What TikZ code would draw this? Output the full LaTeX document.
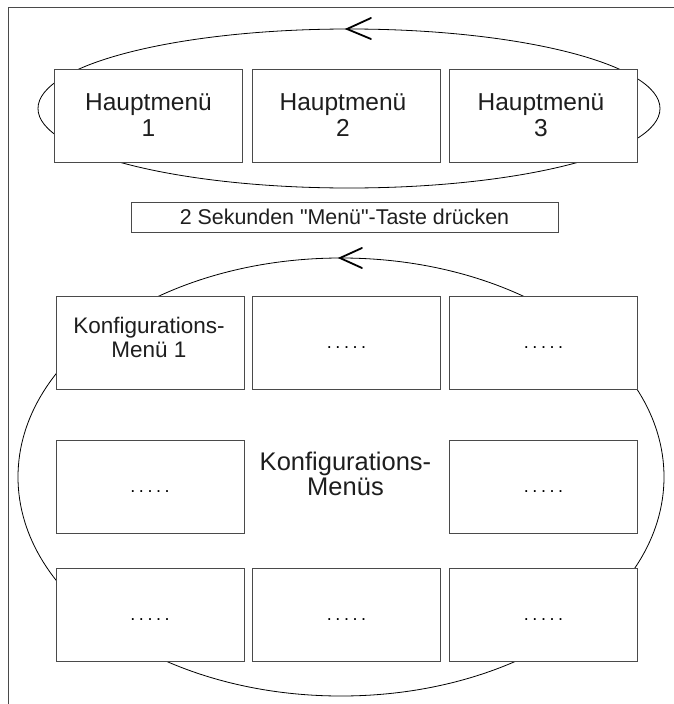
\documentclass[tikz,border=0pt]{standalone}
\usepackage{fontspec}
\setmainfont{Liberation Sans}[Ligatures=TeXOff]
\definecolor{boxgray}{HTML}{4A4A4A}
\definecolor{textgray}{HTML}{1E1E1E}
\newcommand\fivedots{.\kern3.6pt.\kern3.6pt.\kern3.6pt.\kern3.6pt.}
\begin{document}
\begin{tikzpicture}[x=1pt,y=-1pt,
  frame/.style={draw=boxgray,line width=0.9pt},
  menubox/.style={draw=boxgray,line width=0.9pt,fill=white,minimum width=188pt,minimum height=93pt,inner sep=0pt},
  loopline/.style={draw=black,line width=0.8pt},
  tipline/.style={line width=1.8pt,line cap=round,line join=miter},
  hm/.style={text=textgray,font=\fontsize{24.5}{26}\selectfont,anchor=base,inner sep=0pt},
  km/.style={text=textgray,font=\fontsize{22.5}{24}\selectfont,anchor=base,inner sep=0pt},
  bigm/.style={text=textgray,font=\fontsize{25.5}{27}\selectfont,anchor=base,inner sep=0pt},
  dotstext/.style={text=black,font=\fontsize{18}{20}\selectfont,anchor=base,inner sep=0pt}]
\useasboundingbox (0,0) rectangle (674,704);
% frame
\draw[frame] (8,704) -- (8,7) -- (674,7);
% loops
\draw[loopline] (349,108.5) ellipse [x radius=311, y radius=79.5];
\draw[tipline] (371,18) -- (347,29) -- (371,39);
\draw[loopline] (341,477) ellipse [x radius=323, y radius=219];
\draw[tipline] (362,248) -- (340,258) -- (362,268);
% main menus
\node[menubox] (h1) at (148.5,115.5) {};
\node[menubox] (h2) at (346,115.5) {};
\node[menubox] (h3) at (543,115.5) {};
\node[hm] (h1a) at (148.5,110) {Hauptmenü};
\node[hm] (h1b) at (148.5,136) {1};
\node[hm] (h2a) at (343,110) {Hauptmenü};
\node[hm] (h2b) at (343,136) {2};
\node[hm] (h3a) at (541,110) {Hauptmenü};
\node[hm] (h3b) at (541,136) {3};
% hint
\node[menubox,minimum width=427pt,minimum height=30pt,text=textgray,font=\fontsize{21.4}{24}\selectfont] (sek) at (344.5,217) {2 Sekunden "Menü"-Taste drücken};
% configuration menus
\node[menubox] (k11) at (150,342.5) {};
\node[menubox] (k12) at (346.5,342.5) {};
\node[menubox] (k13) at (543.5,342.5) {};
\node[menubox] (k21) at (150,486.5) {};
\node[menubox] (k23) at (543.5,486.5) {};
\node[menubox] (k31) at (150,615) {};
\node[menubox] (k32) at (346.5,615) {};
\node[menubox] (k33) at (543.5,615) {};
\node[km] (k11a) at (149,333) {Konfigurations-};
\node[km] (k11b) at (149,357) {Menü 1};
\node[dotstext] (d12) at (346.5,348) {\fivedots};
\node[dotstext] (d13) at (543.5,348) {\fivedots};
\node[dotstext] (d21) at (150,492) {\fivedots};
\node[dotstext] (d23) at (543.5,492) {\fivedots};
\node[dotstext] (d31) at (150,620.5) {\fivedots};
\node[dotstext] (d32) at (346.5,620.5) {\fivedots};
\node[dotstext] (d33) at (543.5,620.5) {\fivedots};
\node[bigm] (ka) at (345.5,470) {Konfigurations-};
\node[bigm] (kb) at (345.5,495) {Menüs};
\end{tikzpicture}
\end{document}
